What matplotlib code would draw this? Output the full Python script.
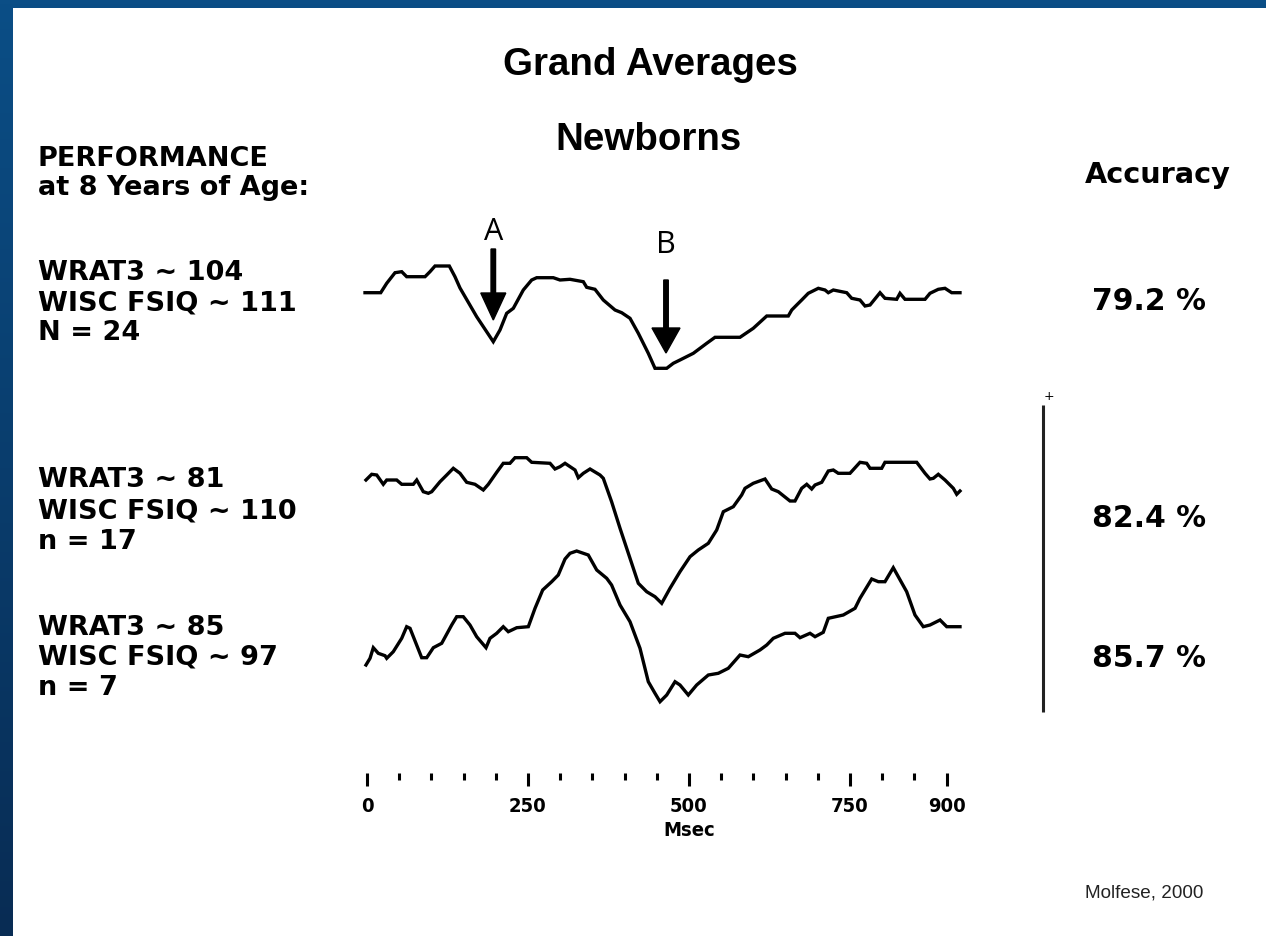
import numpy as np
import matplotlib
matplotlib.use("Agg")
import matplotlib.pyplot as plt
from matplotlib.patches import Rectangle, FancyArrow

# ---------------- data (time in ms, amplitude in arbitrary units, up = positive) -------------
t_top = [-3.1, 21.3, 30.6, 43.5, 53.9, 61.6, 90.1, 97.8, 105.6, 127.8, 136.6, 144.4, 170.3,
         196.1, 206.5, 216.9, 227.2, 242.7, 255.7, 263.5, 289.3, 299.7, 315.2, 335.9, 341.1,
         354.0, 366.9, 385.1, 395.5, 408.4, 421.3, 436.8, 447.2, 465.4, 475.6, 486.0, 506.7,
         527.5, 540.4, 579.2, 599.8, 620.7, 654.2, 659.5, 667.2, 675.0, 685.2, 700.8, 711.2,
         716.3, 724.1, 744.9, 752.6, 765.5, 773.3, 781.1, 796.6, 804.3, 822.5, 827.6, 835.4,
         866.5, 874.2, 887.1, 897.5, 907.9, 920.8]
a_top = [0.0, 0.0, 0.94, 2.0, 2.1, 1.6, 1.6, 2.1, 2.67, 2.67, 1.6, 0.47, -2.4,
         -4.9, -3.73, -2.06, -1.56, 0.27, 1.27, 1.5, 1.5, 1.27, 1.34, 1.1, 0.54,
         0.34, -0.73, -1.73, -2.0, -2.56, -4.06, -6.06, -7.56, -7.56, -7.06, -6.73, -6.06,
         -5.06, -4.46, -4.46, -3.56, -2.33, -2.33, -1.73, -1.23, -0.73, -0.06, 0.44, 0.27,
         0.0, 0.27, 0.0, -0.56, -0.73, -1.33, -1.23, 0.0, -0.56, -0.66, -0.06, -0.66,
         -0.66, -0.06, 0.34, 0.44, 0.0, 0.0]

t_mid = [-1.6, 7.3, 15.1, 25.3, 30.6, 46.1, 53.9, 71.9, 77.2, 87.4, 95.2, 100.5, 113.4,
         123.8, 134.0, 144.4, 154.8, 167.7, 180.6, 188.4, 201.4, 211.6, 222.0, 229.8, 248.0,
         255.7, 284.2, 291.9, 299.7, 307.5, 323.0, 328.1, 335.9, 346.3, 361.8, 366.9, 379.8,
         392.9, 408.4, 421.3, 434.3, 447.2, 457.6, 470.5, 486.0, 501.6, 514.4, 530.0, 543.0,
         553.3, 568.8, 581.8, 587.0, 599.8, 618.0, 628.4, 638.7, 656.8, 664.6, 675.0, 682.8,
         690.5, 695.7, 706.1, 716.3, 724.1, 731.8, 750.0, 765.5, 775.9, 781.1, 799.2, 804.3,
         853.6, 866.5, 874.2, 879.4, 887.1, 897.5, 910.4, 915.7, 920.8]
a_mid = [0.0, 0.57, 0.5, -0.43, 0.0, 0.0, -0.43, -0.43, 0.0, -1.17, -1.33, -1.17, -0.17,
         0.5, 1.17, 0.67, -0.23, -0.43, -1.0, -0.43, 0.77, 1.67, 1.67, 2.23, 2.23,
         1.77, 1.67, 1.1, 1.33, 1.67, 1.0, 0.23, 0.67, 1.1, 0.5, 0.17, -2.17,
         -4.83, -7.83, -10.33, -11.17, -11.67, -12.33, -10.83, -9.17, -7.67, -7.0, -6.33, -5.0,
         -3.17, -2.67, -1.5, -0.83, -0.33, 0.1, -0.9, -1.17, -2.1, -2.1, -0.83, -0.43,
         -0.9, -0.5, -0.23, 0.9, 1.0, 0.67, 0.67, 1.77, 1.67, 1.17, 1.17, 1.77,
         1.77, 0.67, 0.1, 0.17, 0.57, 0.0, -0.83, -1.43, -1.1]

t_bot = [-1.6, 4.7, 9.8, 17.5, 28.0, 30.6, 40.8, 53.9, 61.6, 66.8, 84.9, 92.7, 103.0,
         116.0, 131.5, 139.3, 149.5, 159.9, 170.3, 184.8, 191.0, 201.4, 211.6, 219.4, 232.5,
         250.5, 260.9, 272.8, 286.8, 297.0, 307.5, 315.2, 325.6, 343.6, 356.7, 372.2, 379.8,
         392.9, 408.4, 423.9, 436.8, 447.2, 455.0, 465.4, 478.3, 486.0, 498.9, 511.9, 530.0,
         545.5, 561.0, 579.2, 592.1, 610.2, 620.7, 630.9, 649.1, 664.6, 672.4, 687.9, 695.7,
         708.5, 716.3, 739.6, 757.8, 765.5, 783.7, 794.0, 804.3, 817.2, 838.0, 850.9, 863.8,
         874.2, 889.8, 900.2, 920.8]
a_bot = [0.0, 0.67, 1.73, 1.17, 0.93, 0.67, 1.33, 2.67, 3.83, 3.67, 0.73, 0.73, 1.73,
         2.17, 4.0, 4.83, 4.83, 4.0, 2.83, 1.73, 2.67, 3.17, 3.83, 3.33, 3.73,
         3.83, 5.67, 7.5, 8.33, 9.0, 10.6, 11.17, 11.4, 11.0, 9.5, 8.67, 8.0,
         6.0, 4.33, 1.67, -1.67, -2.83, -3.67, -3.0, -1.67, -2.0, -3.0, -2.0, -1.0,
         -0.83, -0.33, 1.0, 0.83, 1.5, 2.0, 2.67, 3.17, 3.17, 2.73, 3.17, 2.83,
         3.27, 4.67, 5.0, 5.67, 6.67, 8.6, 8.33, 8.33, 9.73, 7.33, 5.0, 3.83,
         4.0, 4.5, 3.83, 3.83]

major_ticks = [0, 250, 500, 750, 900]
minor_ticks = [50, 100, 150, 200, 300, 350, 400, 450, 550, 600, 650, 700, 800, 850]

left_lines = ["WRAT3 ~ 104", "WISC FSIQ ~ 111", "N = 24",
              "WRAT3 ~ 81", "WISC FSIQ ~ 110", "n = 17",
              "WRAT3 ~ 85", "WISC FSIQ ~ 97", "n = 7"]
accuracy = ["79.2 %", "82.4 %", "85.7 %"]
peaks = [("A", 196.1), ("B", 464.3)]

# ---------------- layout ----------------
W, H = 1266, 936
X0, PXMS = 367.0, 0.644          # pixel of 0 ms, pixels per ms
UNIT = 10.0                      # pixels per amplitude unit
bases = [292.7, 480.0, 665.0]

fig = plt.figure(figsize=(W / 100, H / 100), dpi=100)
bg = fig.add_axes([0, 0, 1, 1])
bg.set_xlim(0, W); bg.set_ylim(H, 0); bg.axis("off")

# blue gradient border
top_c = np.array([11, 78, 134]) / 255
bot_c = np.array([8, 44, 84]) / 255
g = np.linspace(0, 1, 256)[:, None]
grad = (top_c[None, :] * (1 - g) + bot_c[None, :] * g)[:, None, :]
grad = np.repeat(grad, 2, axis=1)
bg.imshow(grad, extent=[0, W, H, 0], aspect="auto", zorder=0)
bg.add_patch(Rectangle((13, 8), W - 13, H - 8, facecolor="white", edgecolor="none", zorder=1))

ax = fig.add_axes([0, 0, 1, 1])
ax.set_facecolor("none")
ax.set_xlim(-X0 / PXMS, (W - X0) / PXMS)
ax.set_ylim(H, 0)
ax.axis("off")

for tt, aa, b in [(t_top, a_top, bases[0]), (t_mid, a_mid, bases[1]), (t_bot, a_bot, bases[2])]:
    ax.plot(tt, b - UNIT * np.array(aa), color="black", lw=2.4, solid_joinstyle="miter", zorder=3)

# arrows
arrow_geo = [(249, 320, 27, 25), (280, 353, 25, 28)]   # tail y, tip y, head len, head width (px)
letter_y = [240, 253]
for (lab, tm), (ty, tip, hl, hw), ly in zip(peaks, arrow_geo, letter_y):
    ax.add_patch(FancyArrow(tm, ty, 0, tip - ty, width=4.5 / PXMS, head_width=hw / PXMS,
                            head_length=hl, length_includes_head=True, color="black", zorder=4))
    ax.text(tm, ly, lab, ha="center", va="baseline", fontsize=22, family="Open Sans", zorder=4)

# time axis ticks
for tk in major_ticks:
    ax.plot([tk, tk], [773, 786], color="black", lw=2.2, solid_capstyle="butt")
    ax.text(tk, 806, str(tk), ha="center", va="center", fontsize=14.5, family="DejaVu Sans",
            fontweight="bold", fontstretch="condensed")
for tk in minor_ticks:
    ax.plot([tk, tk], [773, 780], color="black", lw=2.2, solid_capstyle="butt")
ax.text(500, 831, "Msec", ha="center", va="center", fontsize=14.5, family="DejaVu Sans",
        fontweight="bold", fontstretch="condensed")

# titles
bg.text(650, 75, "Grand Averages", ha="center", va="baseline", fontsize=27.7,
        family="Liberation Sans", fontweight="bold", zorder=5)
bg.text(648, 150, "Newborns", ha="center", va="baseline", fontsize=27.7,
        family="Liberation Sans", fontweight="bold", zorder=5)

lab_kw = dict(ha="left", va="baseline", fontsize=19.5, family="DejaVu Sans",
              fontweight="bold", zorder=5)
bg.text(38, 166, "PERFORMANCE", **lab_kw)
bg.text(38, 195, "at 8 Years of Age:", **lab_kw)
ys = [280, 310, 340, 487, 518, 549, 635, 665, 695]
for s, y in zip(left_lines, ys):
    bg.text(38, y, s, **lab_kw)

bg.text(1085, 183, "Accuracy", ha="left", va="baseline", fontsize=20.7, family="DejaVu Sans",
        fontweight="bold", zorder=5)
for s, y in zip(accuracy, [310, 527, 667]):
    bg.text(1092, y, s, ha="left", va="baseline", fontsize=21.5, family="DejaVu Sans",
            fontweight="bold", zorder=5)

# scale bar
bg.plot([1043, 1043], [405, 712], color="#222222", lw=2.2, zorder=5, solid_capstyle="butt")
bg.text(1049, 397, "+", ha="center", va="center", fontsize=9, family="DejaVu Sans", zorder=5)

bg.text(1085, 897, "Molfese, 2000", ha="left", va="baseline", fontsize=13.6,
        family="Liberation Sans", color="#222222", zorder=5)

fig.savefig("out.png", dpi=100)
